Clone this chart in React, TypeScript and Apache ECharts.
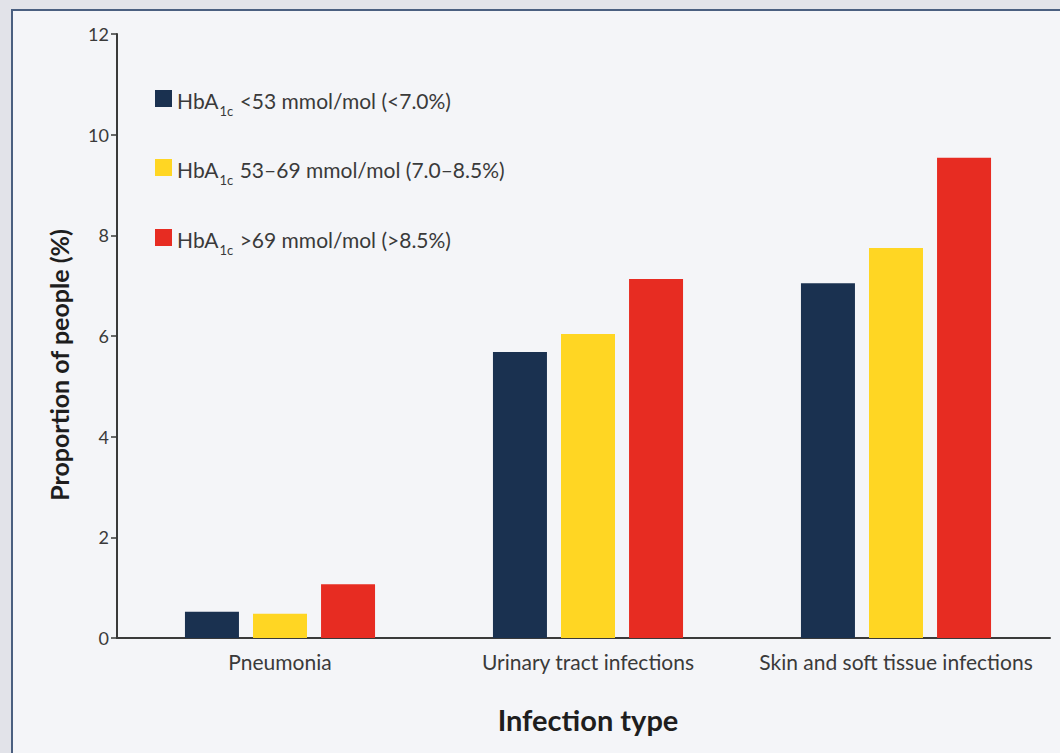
import React, { useEffect, useRef } from "react";
import * as echarts from "echarts";

const categories = ["Pneumonia", "Urinary tract infections", "Skin and soft tissue infections"];
const seriesNames = ["low", "mid", "high"];
const legendLabels = [
  "{m|HbA}{s|1c}{m| <53 mmol/mol (<7.0%)}",
  "{m|HbA}{s|1c}{m| 53–69 mmol/mol (7.0–8.5%)}",
  "{m|HbA}{s|1c}{m| >69 mmol/mol (>8.5%)}",
];
const lowValues = [0.52, 5.68, 7.05];
const midValues = [0.48, 6.04, 7.75];
const highValues = [1.07, 7.13, 9.54];
const colors = ["#1a3150", "#ffd623", "#e72c22"];
const yTicks = [0, 2, 4, 6, 8, 10, 12];

const FONT = "Lato, 'Noto Sans', sans-serif";
const TEXT = "#3a3a3a";

export default function App() {
  const ref = useRef<HTMLDivElement>(null);
  useEffect(() => {
    if (!ref.current) return;
    const chart = echarts.init(ref.current, null, { renderer: "svg" });
    const values = [lowValues, midValues, highValues];
    const legendTops = [86, 155, 225];
    const rich = {
      m: { fontSize: 21, lineHeight: 25, padding: [4, 0, 0, 0], verticalAlign: "top", color: TEXT, fontFamily: FONT },
      s: { fontSize: 13, lineHeight: 13, padding: [18, 1, 0, 1], verticalAlign: "top", color: TEXT, fontFamily: FONT },
    };
    chart.setOption({
      animation: false,
      graphic: [
        {
          type: "rect",
          z: -10,
          silent: true,
          shape: { x: 12, y: 10, width: 1100, height: 800 },
          style: { fill: "#f4f5f8", stroke: "#4a5f80", lineWidth: 2 },
        },
        {
          type: "line",
          silent: true,
          shape: { x1: 116, y1: 638, x2: 127, y2: 638 },
          style: { stroke: TEXT, lineWidth: 2 },
        },
      ],
      legend: seriesNames.map((n, i) => ({
        data: [n],
        left: 155,
        top: legendTops[i],
        padding: 0,
        itemWidth: 17,
        itemHeight: 17,
        itemGap: 0,
        icon: "rect",
        selectedMode: false,
        formatter: () => legendLabels[i],
        textStyle: { rich },
      })),
      grid: { left: 126, right: 10, top: 34, bottom: 115, containLabel: false },
      xAxis: {
        type: "category",
        data: categories,
        axisLine: { lineStyle: { color: TEXT, width: 2 } },
        axisTick: { show: false },
        axisLabel: { color: TEXT, fontSize: 21, fontFamily: FONT, margin: 13, interval: 0, hideOverlap: false },
        name: "Infection type",
        nameLocation: "middle",
        nameGap: 67,
        nameTextStyle: { color: "#1e1e1e", fontSize: 29, fontWeight: "bold", fontFamily: FONT },
      },
      yAxis: {
        type: "value",
        min: yTicks[0],
        max: yTicks[yTicks.length - 1],
        interval: 2,
        offset: 9,
        axisLine: { show: true, lineStyle: { color: TEXT, width: 2 } },
        axisTick: { show: true, length: 6, lineStyle: { color: TEXT, width: 1.5 } },
        splitLine: { show: false },
        axisLabel: { color: TEXT, fontSize: 18, fontFamily: FONT, margin: 8 },
        name: "Proportion of people (%)",
        nameLocation: "middle",
        nameGap: 46,
        nameTextStyle: {
          color: "#1e1e1e",
          fontSize: 25,
          fontWeight: "bold",
          fontFamily: FONT,
          padding: [0, 58, 0, 0],
        },
      },
      series: seriesNames.map((n, i) => ({
        name: n,
        type: "bar",
        data: values[i],
        barWidth: 54,
        barGap: "26%",
        barCategoryGap: "38%",
        itemStyle: { color: colors[i] },
      })),
    });
    return () => chart.dispose();
  }, []);
  return (
    <div
      ref={ref}
      style={{ position: "fixed", left: 0, top: 0, width: 1060, height: 753, background: "#e2e3e9" }}
    />
  );
}
